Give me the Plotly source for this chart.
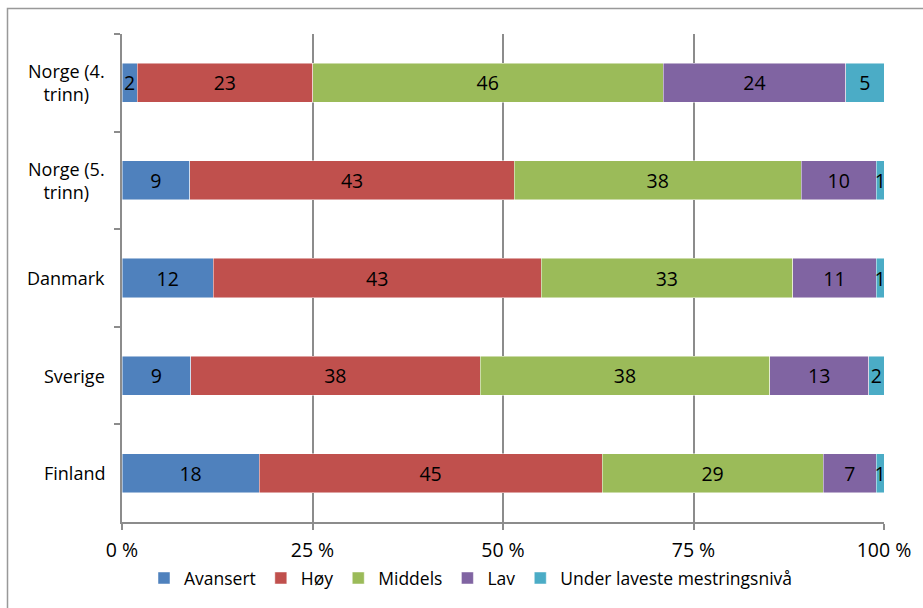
import plotly.graph_objects as go

categories = ["Norge (4. trinn)", "Norge (5. trinn)", "Danmark", "Sverige", "Finland"]
category_labels = ["Norge (4.<br>trinn)", "Norge (5.<br>trinn)", "Danmark", "Sverige", "Finland"]
series_names = ["Avansert", "Høy", "Middels", "Lav", "Under laveste mestringsnivå"]
avansert = [2, 9, 12, 9, 18]
hoy = [23, 43, 43, 38, 45]
middels = [46, 38, 33, 38, 29]
lav = [24, 10, 11, 13, 7]
under = [5, 1, 1, 2, 1]
x_ticks = [0, 25, 50, 75, 100]
x_tick_labels = ["0 %", "25 %", "50 %", "75 %", "100 %"]

colors = ["#4F81BD", "#C0504D", "#9BBB59", "#8064A2", "#4BACC6"]
FONT = "Open Sans"
FS = 18
FS_NUM = 19.5

W, H = 923, 608
ML, MR, MT, MB = 122, 39, 34, 86
PW, PH = W - ML - MR, H - MT - MB

fig = go.Figure()
for name, vals, col in zip(series_names, [avansert, hoy, middels, lav, under], colors):
    fig.add_trace(go.Bar(
        y=categories, x=vals, name=name, orientation="h",
        marker=dict(color=col, line=dict(color="rgba(255,255,255,0.6)", width=0.8)),
        text=[str(v) for v in vals], textposition="inside",
        insidetextanchor="middle", textangle=0,
        textfont=dict(color="black", size=FS_NUM, family=FONT),
        cliponaxis=False,
    ))

annotations = []
for cat, lab in zip(categories, category_labels):
    annotations.append(dict(
        x=0, xref="paper", y=cat, yref="y", text=lab, showarrow=False,
        xanchor="right", align="center", xshift=-15,
        font=dict(size=FS, family=FONT, color="black"),
    ))

fig.update_layout(
    width=W, height=H,
    barmode="stack", barnorm="percent", bargap=0.6,
    margin=dict(l=ML, r=MR, t=MT, b=MB),
    paper_bgcolor="white", plot_bgcolor="white",
    font=dict(family=FONT, size=FS, color="black"),
    uniformtext=dict(mode="show", minsize=FS_NUM),
    showlegend=True,
    legend=dict(orientation="h", x=0.458, xanchor="center", y=-0.115, yanchor="middle",
                font=dict(size=17.5, family=FONT), itemwidth=30, traceorder="normal",
                bgcolor="rgba(0,0,0,0)"),
    annotations=annotations,
    shapes=[dict(type="rect", xref="paper", yref="paper",
                 x0=(7.5 - ML) / PW, x1=(W + 20 - ML) / PW,
                 y0=-0.5, y1=1 + (MT - 8.5) / PH,
                 line=dict(color="#999999", width=1.5), layer="below")],
)
fig.update_xaxes(
    range=[0, 100], tickvals=x_ticks, ticktext=x_tick_labels,
    tickfont=dict(size=FS_NUM, family=FONT, color="black"),
    showgrid=True, gridcolor="#8c8c8c", gridwidth=1.5,
    showline=True, linecolor="#8c8c8c", linewidth=1.5,
    ticks="outside", ticklen=6, tickcolor="#8c8c8c", tickwidth=1.5,
    ticklabelstandoff=4, zeroline=False, fixedrange=True,
)
fig.update_yaxes(
    categoryorder="array", categoryarray=categories, autorange="reversed",
    showticklabels=False, tickson="boundaries",
    showline=True, linecolor="#8c8c8c", linewidth=1.5,
    ticks="outside", ticklen=6, tickcolor="#8c8c8c", tickwidth=1.5,
    showgrid=False, zeroline=False, fixedrange=True,
)

fig.write_html("out.html", config={"displayModeBar": False},
               post_script="document.body.style.margin='0';document.body.style.overflow='hidden';")
